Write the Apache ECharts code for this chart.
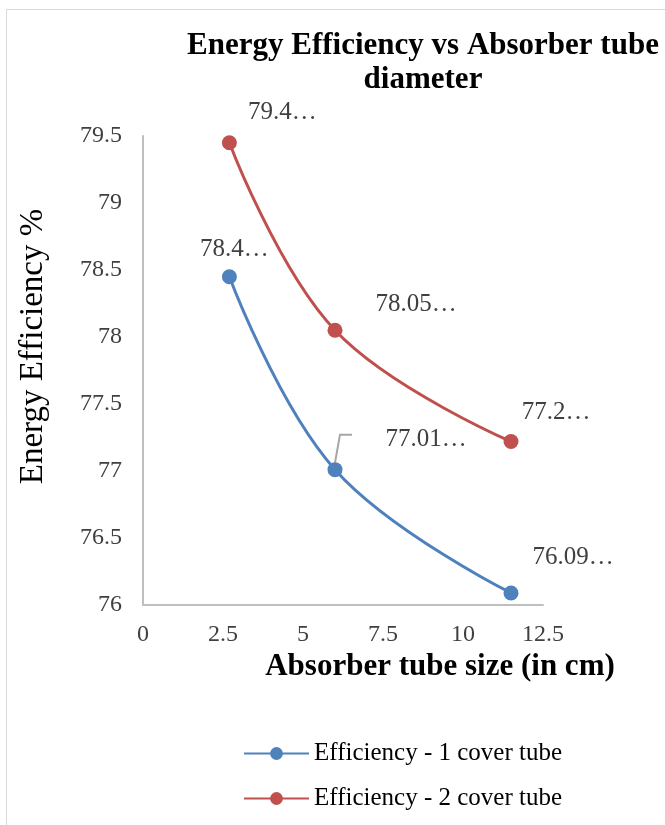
<!DOCTYPE html>
<html>
<head>
<meta charset="utf-8">
<script src="https://cdn.jsdelivr.net/npm/echarts@6/dist/echarts.min.js"></script>
<style>
  html, body { margin: 0; padding: 0; background: #ffffff; }
  #chart { width: 665px; height: 825px; }
</style>
</head>
<body>
<div id="chart"></div>
<script>
// Absorber tube size (cm) on the x axis
const tubeSize = [2.7, 6, 11.5];
// Energy efficiency (%) for each cover-tube arrangement
const effOneCover = [78.45, 77.01, 76.09];
const effTwoCover = [79.45, 78.05, 77.22];
const seriesNames = ['Efficiency - 1 cover tube', 'Efficiency - 2 cover tube'];
// decimals kept in each truncated data label
const digitsOne = [1, 2, 2];
const digitsTwo = [1, 2, 1];

// label placement relative to each marker centre
const offsetsOne = [[5, -27], [91, -30], [62, -36]];
const offsetsTwo = [[53, -30], [81, -26], [45, -29]];
// which point of the 1-cover series gets a leader line to its label
const leaderIndex = 1;

const SERIF = '"Liberation Serif", "Times New Roman", serif';
const TEXT = '#404040';

function truncLabel(v, d) {
  const s = String(v);
  const dot = s.indexOf('.');
  return (dot < 0 ? s : s.slice(0, dot + 1 + d)) + '\u2026';
}

function buildData(ys, digits, offsets) {
  return tubeSize.map((x, i) => ({
    value: [x, ys[i]],
    digits: digits[i],
    label: { offset: offsets[i] }
  }));
}

const chart = echarts.init(document.getElementById('chart'), null, { renderer: 'canvas' });

function lineSeries(name, color, data) {
  return {
    name: name,
    type: 'line',
    smooth: 0.4,
    data: data,
    symbol: 'circle',
    symbolSize: 15,
    z: 3,
    lineStyle: { color: color, width: 3 },
    itemStyle: { color: color },
    label: {
      show: true,
      position: 'inside',
      fontFamily: SERIF,
      fontSize: 25,
      color: TEXT,
      formatter: p => truncLabel(p.value[1], p.data.digits)
    },
    emphasis: { disabled: true },
    animation: false
  };
}

chart.setOption({
  backgroundColor: '#ffffff',
  animation: false,
  graphic: [{
    type: 'rect',
    left: 4, top: 7,
    shape: { width: 720, height: 900 },
    style: { fill: 'none', stroke: '#d9d9d9', lineWidth: 1 },
    silent: true
  }],
  title: {
    text: 'Energy Efficiency vs Absorber tube\ndiameter',
    left: 418,
    top: 24,
    textAlign: 'center',
    textStyle: {
      fontFamily: SERIF,
      fontWeight: 'bold',
      fontSize: 31,
      lineHeight: 34,
      color: '#000000'
    }
  },
  legend: {
    orient: 'vertical',
    left: 238,
    top: 736,
    itemWidth: 65,
    itemHeight: 16,
    itemGap: 20,
    textStyle: { fontFamily: SERIF, fontSize: 25, color: '#000000' },
    data: seriesNames
  },
  grid: { left: 143, right: 122, top: 136, bottom: 220, containLabel: false },
  xAxis: {
    type: 'value',
    min: 0, max: 12.5, interval: 2.5,
    name: 'Absorber tube size (in cm)',
    nameLocation: 'middle',
    nameGap: 44,
    nameTextStyle: {
      fontFamily: SERIF, fontWeight: 'bold', fontSize: 31, color: '#000000',
      padding: [0, 0, 0, 194]
    },
    axisLine: { show: true, lineStyle: { color: '#bfbfbf', width: 2 } },
    axisTick: { show: false },
    splitLine: { show: false },
    axisLabel: { fontFamily: SERIF, fontSize: 24, color: TEXT, margin: 18 }
  },
  yAxis: {
    type: 'value',
    min: 76, max: 79.5, interval: 0.5,
    name: 'Energy Efficiency %',
    nameLocation: 'middle',
    nameGap: 93,
    nameTextStyle: {
      fontFamily: SERIF, fontSize: 33, color: '#000000',
      padding: [0, 0, 0, 48]
    },
    axisLine: { show: true, lineStyle: { color: '#bfbfbf', width: 2 } },
    axisTick: { show: false },
    splitLine: { show: false },
    axisLabel: { fontFamily: SERIF, fontSize: 24, color: TEXT, margin: 21 }
  },
  series: [
    lineSeries(seriesNames[0], '#4F81BD', buildData(effOneCover, digitsOne, offsetsOne)),
    lineSeries(seriesNames[1], '#C0504D', buildData(effTwoCover, digitsTwo, offsetsTwo)),
    {
      // elbow leader from the marker up and across toward its label
      type: 'custom',
      silent: true,
      z: 2,
      data: [[tubeSize[leaderIndex], effOneCover[leaderIndex]]],
      renderItem: function (params, api) {
        const p = api.coord([api.value(0), api.value(1)]);
        return {
          type: 'polyline',
          shape: {
            points: [[p[0], p[1] - 7], [p[0] + 5, p[1] - 35], [p[0] + 17, p[1] - 35]]
          },
          style: { stroke: '#a6a6a6', lineWidth: 2, fill: null }
        };
      },
      animation: false
    }
  ]
});
</script>
</body>
</html>
